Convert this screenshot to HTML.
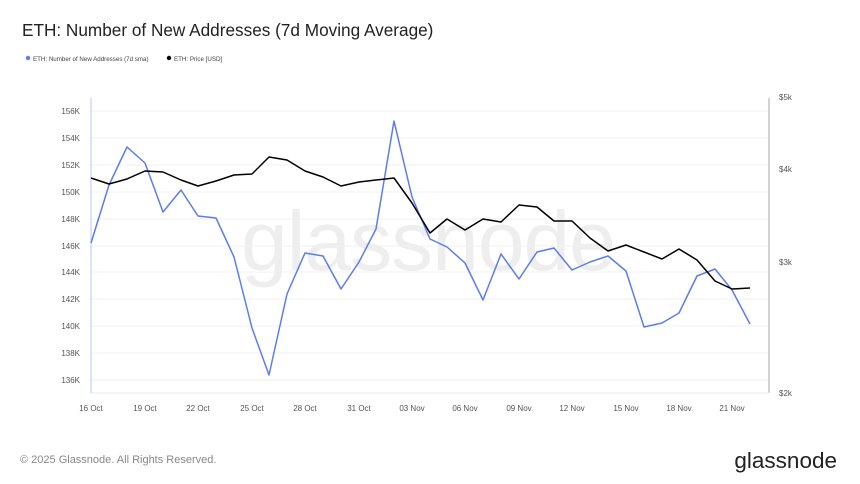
<!DOCTYPE html>
<html><head><meta charset="utf-8"><style>
html,body{margin:0;padding:0;background:#fff;}
body{width:860px;height:484px;position:relative;overflow:hidden;font-family:"Liberation Sans",sans-serif;}
</style></head><body>
<svg width="860" height="484" viewBox="0 0 860 484" xmlns="http://www.w3.org/2000/svg" style="position:absolute;left:0;top:0" font-family="Liberation Sans, sans-serif">
<text x="22" y="36" font-size="17.2" fill="#222">ETH: Number of New Addresses (7d Moving Average)</text>
<circle cx="28" cy="58" r="2.2" fill="#5b7cef"/>
<text x="33" y="61" font-size="6.2" fill="#444">ETH: Number of New Addresses (7d sma)</text>
<circle cx="169" cy="58" r="2.2" fill="#000"/>
<text x="174" y="61" font-size="6.2" fill="#444">ETH: Price [USD]</text>
<text x="428" y="270" font-size="84" fill="#eeeeee" text-anchor="middle" letter-spacing="-1">glassnode</text>
<g stroke="#f0f0f0" stroke-width="1">
<line x1="91" x2="768" y1="111" y2="111"/><line x1="91" x2="768" y1="138" y2="138"/><line x1="91" x2="768" y1="165" y2="165"/><line x1="91" x2="768" y1="192" y2="192"/><line x1="91" x2="768" y1="219" y2="219"/><line x1="91" x2="768" y1="246" y2="246"/><line x1="91" x2="768" y1="272" y2="272"/><line x1="91" x2="768" y1="299" y2="299"/><line x1="91" x2="768" y1="326" y2="326"/><line x1="91" x2="768" y1="353" y2="353"/><line x1="91" x2="768" y1="380" y2="380"/>
</g>
<line x1="91" y1="98" x2="91" y2="393" stroke="#b8c6f5" stroke-width="1"/>
<line x1="769" y1="98" x2="769" y2="393" stroke="#aaa" stroke-width="1"/>
<line x1="91" y1="393" x2="769" y2="393" stroke="#e8e8e8" stroke-width="1"/>
<g font-size="8" fill="#555" text-anchor="end">
<text x="80" y="114">156K</text><text x="80" y="141">154K</text><text x="80" y="168">152K</text><text x="80" y="195">150K</text><text x="80" y="222">148K</text><text x="80" y="249">146K</text><text x="80" y="275">144K</text><text x="80" y="302">142K</text><text x="80" y="329">140K</text><text x="80" y="356">138K</text><text x="80" y="383">136K</text>
</g>
<g font-size="8" fill="#555">
<text x="779" y="100">$5k</text><text x="779" y="172">$4k</text><text x="779" y="265">$3k</text><text x="779" y="396">$2k</text>
</g>
<g font-size="8" fill="#555" text-anchor="middle">
<text x="91" y="411">16 Oct</text><text x="145" y="411">19 Oct</text><text x="198" y="411">22 Oct</text><text x="252" y="411">25 Oct</text><text x="305" y="411">28 Oct</text><text x="359" y="411">31 Oct</text><text x="412" y="411">03 Nov</text><text x="465" y="411">06 Nov</text><text x="519" y="411">09 Nov</text><text x="572" y="411">12 Nov</text><text x="626" y="411">15 Nov</text><text x="679" y="411">18 Nov</text><text x="732" y="411">21 Nov</text>
</g>
<polyline fill="none" stroke="#5b7cef" stroke-width="1.5" stroke-linejoin="round" points="91,243 109,185 127,147 145,163 163,212 181,190 198,216 216,218 234,257 252,328 269,375 287,294 305,253 323,256 341,289 359,262 376,229 394,121 412,197 430,239 447,247 465,263 483,300 501,254 519,279 537,252 554,248 572,270 590,262 608,256 626,271 644,327 662,323 679,313 697,276 715,269 732,290 750,324"/>
<polyline fill="none" stroke="#000" stroke-width="1.5" stroke-linejoin="round" points="91,178 109,184 127,179 145,171 163,172 181,180 198,186 216,181 234,175 252,174 269,157 287,160 305,171 323,177 341,186 359,182 376,180 394,178 412,203 430,233 447,219 465,230 483,219 501,222 519,205 537,207 554,221 572,221 590,238 608,251 626,245 644,252 662,259 679,249 697,260 715,281 732,289 750,288"/>
<text x="20" y="463" font-size="11" fill="#888">© 2025 Glassnode. All Rights Reserved.</text>
<text x="837" y="468" font-size="22.5" fill="#222" text-anchor="end">glassnode</text>
</svg>
</body></html>
